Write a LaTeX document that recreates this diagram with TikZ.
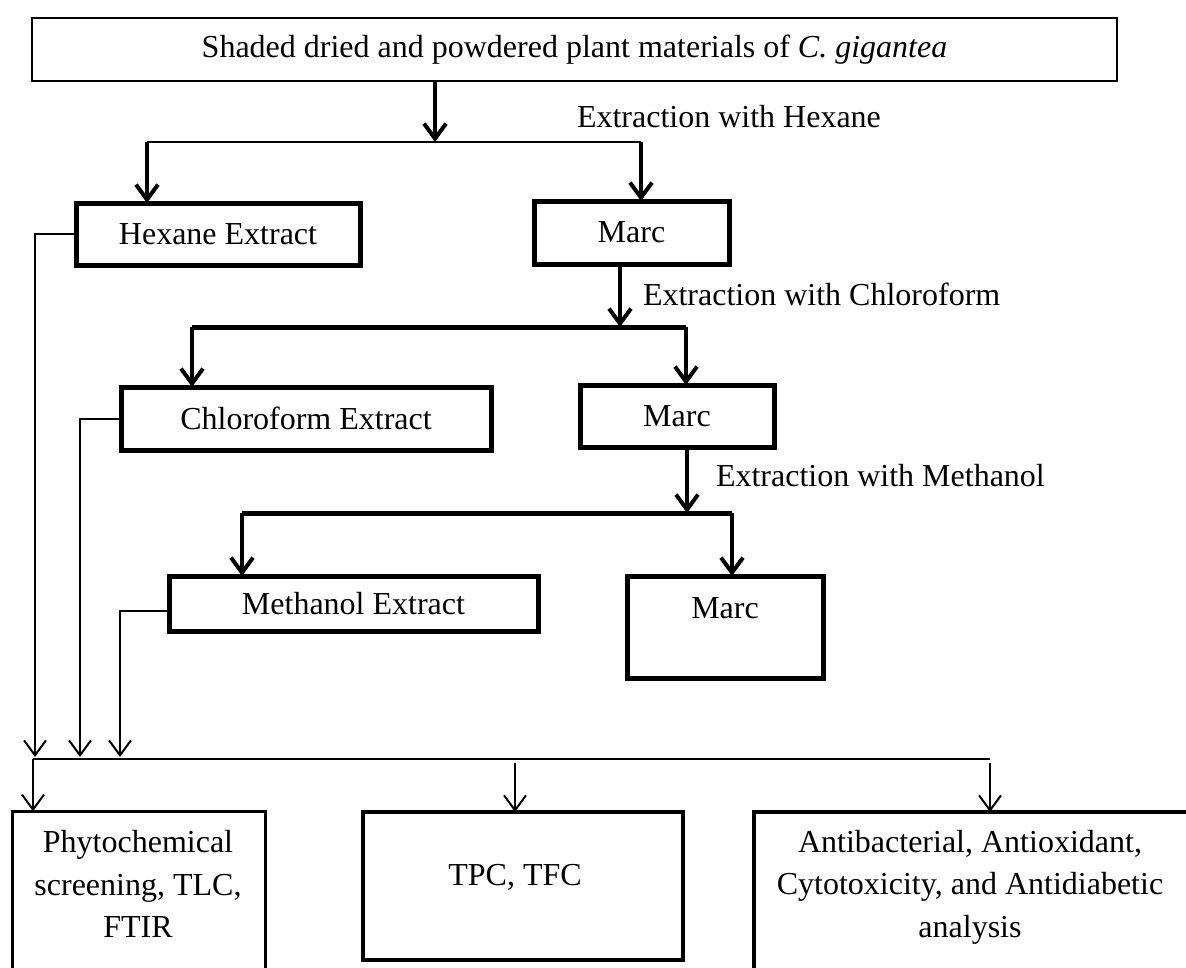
\documentclass[tikz,border=0pt]{standalone}
\usepackage{fontspec}
\setmainfont{Liberation Serif}
\usetikzlibrary{arrows.meta,calc}
\begin{document}
\begin{tikzpicture}[x=1pt,y=-1pt,
  every node/.style={font=\fontsize{32}{42.5}\selectfont, inner sep=0pt, outer sep=0pt},
  topbox/.style={draw, line width=1.6pt, minimum width=1085pt, minimum height=63pt},
  thickbox/.style={draw, line width=5pt},
  frame/.style={draw, anchor=north west},
  lbl/.style={anchor=base west},
  thickarr/.style={line width=4pt, -{Straight Barb[length=15pt,width=22pt]}},
  thinarr/.style={line width=2pt, -{Straight Barb[length=15pt,width=22pt]}},
  thinline/.style={line width=2pt},
  thickline/.style={line width=5pt},
]
\path[use as bounding box] (0,0) rectangle (1186,967);
\clip (0,0) rectangle (1186,967);

% boxes
\node[topbox] (top) at (574.5,49.5) {Shaded dried and powdered plant materials of \textit{C. gigantea}};
\node[thickbox, minimum width=284pt, minimum height=62pt] (hex) at (218,234) {Hexane Extract};
\node[thickbox, minimum width=195pt, minimum height=63pt] (marc1) at (631.5,232.5) {Marc};
\node[thickbox, minimum width=370pt, minimum height=63pt] (chlo) at (306,418.5) {Chloroform Extract};
\node[thickbox, minimum width=194pt, minimum height=62pt] (marc2) at (677,416) {Marc};
\node[thickbox, minimum width=369pt, minimum height=55pt] (meth) at (353.5,603.5) {Methanol Extract};
\node[thickbox, frame, minimum width=196pt, minimum height=102pt] (marc3) at (627,576) {};
\node[anchor=base] (marc3t) at (725,618) {Marc};

% labels
\node[lbl] (lh) at (577,127) {Extraction with Hexane};
\node[lbl] (lc) at (643,305) {Extraction with Chloroform};
\node[lbl] (lm) at (716,486) {Extraction with Methanol};

% hexane split
\coordinate (hxS) at (435,142);
\coordinate (hxL) at (147,142);
\coordinate (hxR) at (641,142);
\draw[thickarr] (top.south -| hxS) -- (hxS);
\draw[thinline] (hxL) -- (hxR);
\draw[thickarr] (hxL) -- (hxL |- hex.north);
\draw[thickarr] (hxR) -- (hxR |- marc1.north);

% chloroform split
\coordinate (chS) at (620,327);
\coordinate (chL) at (192,327);
\coordinate (chR) at (686,327);
\draw[thickarr] (marc1.south -| chS) -- (chS);
\draw[thickline] (chL) -- (chR);
\draw[thickarr] (chL) -- (chL |- chlo.north);
\draw[thickarr] (chR) -- (chR |- marc2.north);

% methanol split
\coordinate (meS) at (687,513);
\coordinate (meL) at (242,513);
\coordinate (meR) at (732,513);
\draw[thickarr] (marc2.south -| meS) -- (meS);
\draw[thickline] (meL) -- (meR);
\draw[thickarr] (meL) -- (meL |- meth.north);
\draw[thickarr] (meR) -- (meR |- marc3.north);

% bottom boxes
\node[frame, line width=2.6pt, minimum width=253pt, minimum height=300pt] (b1) at (12.3,811.3) {};
\node[frame, line width=4.5pt, minimum width=320pt, minimum height=148pt] (b2) at (363,812) {};
\node[frame, line width=4.5pt, minimum width=600pt, minimum height=300pt] (b3) at (754,812) {};
\node[align=center] (b1t) at (138,884) {Phytochemical\\screening, TLC,\\FTIR};
\node (b2t) at (515,877) {TPC, TFC};
\node[align=center] (b3t) at (970,887) {Antibacterial, Antioxidant,\\Cytotoxicity, and Antidiabetic\\analysis};

% feedback lines
\coordinate (f1) at (35,757);
\coordinate (f2) at (80,757);
\coordinate (f3) at (120,757);
\draw[thinarr] (hex.west) -| (f1);
\draw[thinarr] ($(meth.west)+(0,7)$) -| (f3);
\draw[thinarr] (chlo.west) -| (f2);

% bus
\coordinate (busL) at (33,759);
\coordinate (busR) at (990,759);
\draw[thinline] (busL) -- (busR);
\draw[thinarr] (busL) -- (busL |- b1.north);
\coordinate (t2) at (515,763);
\coordinate (t3) at (990,763);
\draw[thinarr] (t2) -- (t2 |- b2.north);
\draw[thinarr] (t3) -- (t3 |- b3.north);
\end{tikzpicture}
\end{document}
